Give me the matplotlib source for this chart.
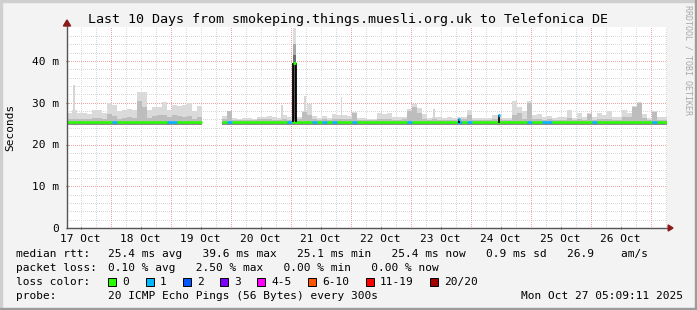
import numpy as np
import matplotlib
matplotlib.use("Agg")
import matplotlib.pyplot as plt
from matplotlib.patches import Rectangle, Polygon

nan = np.nan
W, H = 697, 310

# 2 hour buckets, 12 per day, from Oct 17 05:09 to Oct 27 05:09 (x in days)
smoke_top = [
    27.5, 28.3, 27.5, 27.5, 27.3, 28.2, 28.2, 27.5, 30.0, 29.5, 28.0, 28.3,
    28.6, 28.2, 32.6, 32.6, 28.3, 29.0, 29.0, 30.1, 28.3, 29.5, 29.3, 29.5,
    30.0, 28.0, 29.3, nan, nan, nan, nan, 26.8, 26.8, 26.3, 26.2, 26.3,
    26.3, 26.2, 26.5, 26.5, 26.8, 26.5, 26.3, 27.0, 26.5, 26.5, 26.5, 28.0,
    29.7, 26.8, 26.3, 26.8, 26.3, 27.3, 27.0, 27.0, 26.8, 27.8, 26.3, 26.3,
    26.0, 26.0, 27.5, 27.3, 27.5, 26.5, 26.5, 26.5, 28.5, 29.7, 28.8, 27.2,
    26.3, 26.5, 26.5, 26.3, 26.5, 26.3, 26.5, 26.5, 28.3, 26.3, 26.3, 26.3,
    26.3, 27.0, 27.0, 26.3, 26.3, 30.5, 29.0, 28.0, 30.5, 27.0, 27.3, 26.5,
    26.8, 26.3, 26.5, 26.5, 28.3, 26.3, 27.5, 26.5, 27.5, 26.5, 27.5, 27.0,
    28.0, 26.5, 26.5, 28.3, 27.5, 29.2, 30.2, 27.3, 26.3, 28.0, 26.5, 26.5,
]
smoke_mid = [
    26.0, 26.2, 26.0, 26.0, 26.0, 26.3, 26.3, 26.0, 27.2, 26.8, 26.2, 26.3,
    26.5, 26.3, 30.5, 29.0, 26.3, 26.8, 27.0, 27.0, 26.5, 27.0, 26.8, 26.5,
    26.8, 26.2, 26.5, nan, nan, nan, nan, 26.0, 28.0, 25.9, 25.9, 25.9,
    25.9, 25.9, 26.0, 26.0, 26.0, 25.9, 25.9, 26.0, 25.9, 26.0, 26.2, 27.8,
    27.0, 26.0, 25.9, 26.0, 25.9, 26.2, 26.0, 26.0, 26.0, 27.5, 25.9, 25.9,
    25.8, 25.8, 26.0, 26.0, 26.0, 25.9, 25.9, 26.0, 28.0, 29.0, 27.5, 26.2,
    25.9, 26.0, 25.9, 25.9, 25.9, 25.9, 26.0, 26.0, 27.0, 25.9, 25.9, 25.9,
    25.9, 26.0, 26.2, 25.9, 25.9, 27.0, 27.5, 26.2, 30.0, 26.0, 26.0, 25.9,
    26.0, 25.9, 25.9, 25.9, 26.3, 25.9, 26.2, 25.9, 27.3, 25.9, 26.0, 26.0,
    26.2, 25.9, 25.9, 26.5, 26.5, 29.0, 30.0, 26.3, 25.9, 27.8, 25.9, 25.9,
]
median_ms = [
    25.5, 25.5, 25.5, 25.5, 25.5, 25.5, 25.5, 25.5, 25.5, 25.5, 25.5, 25.5,
    25.5, 25.5, 25.5, 25.5, 25.5, 25.5, 25.5, 25.5, 25.5, 25.5, 25.5, 25.5,
    25.5, 25.5, 25.5, nan, nan, nan, nan, 25.4, 25.4, 25.4, 25.4, 25.4,
    25.4, 25.4, 25.4, 25.4, 25.4, 25.4, 25.4, 25.4, 25.4, 25.4, 25.4, 25.4,
    25.4, 25.4, 25.4, 25.4, 25.4, 25.4, 25.4, 25.4, 25.4, 25.4, 25.4, 25.4,
    25.4, 25.4, 25.4, 25.4, 25.4, 25.4, 25.4, 25.4, 25.4, 25.4, 25.4, 25.4,
    25.4, 25.4, 25.4, 25.4, 25.4, 25.4, 25.4, 25.4, 25.4, 25.4, 25.4, 25.4,
    25.4, 25.4, 25.4, 25.4, 25.4, 25.4, 25.4, 25.4, 25.4, 25.4, 25.4, 25.4,
    25.4, 25.4, 25.4, 25.4, 25.4, 25.4, 25.4, 25.4, 25.4, 25.4, 25.4, 25.4,
    25.4, 25.4, 25.4, 25.4, 25.4, 25.4, 25.4, 25.4, 25.4, 25.4, 25.4, 25.4,
]
loss = [
    0, 0, 0, 0, 0, 0, 0, 0, 0, 1, 0, 0,
    0, 0, 0, 0, 0, 0, 0, 0, 1, 1, 0, 0,
    0, 0, 0, 0, 0, 0, 0, 0, 1, 0, 0, 0,
    0, 0, 0, 0, 0, 0, 0, 0, 1, 0, 0, 0,
    0, 1, 0, 1, 0, 1, 0, 0, 0, 1, 0, 0,
    0, 0, 0, 0, 0, 0, 0, 0, 1, 0, 0, 0,
    0, 0, 0, 0, 0, 0, 1, 0, 1, 0, 0, 0,
    0, 0, 0, 0, 0, 0, 0, 0, 1, 0, 0, 1,
    1, 0, 0, 0, 0, 0, 0, 0, 0, 1, 0, 0,
    0, 0, 0, 0, 0, 0, 0, 0, 0, 1, 0, 0,
]
smoke_floor = 24.8

# narrow smoke spikes
spike_day = [0.117, 3.583, 3.967, 4.575, 6.117]
spike_top = [34.3, 29.5, 31.5, 31.4, 28.6]

# the one big jump on 20 Oct
jump_day = 3.77
jump_median = 39.6
jump_top = 48.0

# small median blips
blip_day = [6.533, 7.2]
blip_ms = [26.1, 27.0]

day_labels = ["17 Oct", "18 Oct", "19 Oct", "20 Oct", "21 Oct",
              "22 Oct", "23 Oct", "24 Oct", "25 Oct", "26 Oct"]

loss_labels = ["0", "1", "2", "3", "4-5", "6-10", "11-19", "20/20"]
loss_colors = ["#26ff00", "#00b8ff", "#0059ff", "#7e00ff",
               "#ff00ff", "#ff5500", "#ff0000", "#a10000"]

plt.rcParams['font.family'] = ['DejaVu Sans Mono']

fig = plt.figure(figsize=(W / 100, H / 100), dpi=100)
fig.patch.set_facecolor("#f3f3f3")


def fx(px):
    return px / W


def fy(py):
    return 1 - py / H


ax = fig.add_axes([fx(67), fy(228), 600 / W, 201 / H])
ax.set_facecolor("white")
ax.set_xlim(0, 10)
ax.set_ylim(0, 201 / 4.175)
for s in ax.spines.values():
    s.set_visible(False)

# grid, 1px dots, not antialiased so they stay crisp
dots = (0, (1, 2))
for y in range(2, 48, 2):
    c = "#f4a4a4" if y % 10 == 0 else "#d9d9d9"
    ax.axhline(y, color=c, lw=0.72, ls=dots, zorder=0, antialiased=False)
for i, x in enumerate(np.arange(0.228, 10, 0.25)):
    c = "#f4a4a4" if i % 4 == 2 else "#d9d9d9"
    ax.axvline(x, color=c, lw=0.72, ls=dots, zorder=0, antialiased=False)

# smoke
bw = 1 / 12
left = np.arange(len(smoke_top)) * bw
top = np.array(smoke_top)
mid = np.array(smoke_mid)
ax.bar(left, top - smoke_floor, bw, bottom=smoke_floor, align="edge",
       color="#dadada", lw=0, zorder=2)
ax.bar(left, mid - smoke_floor, bw, bottom=smoke_floor, align="edge",
       color="#bdbdbd", lw=0, zorder=3)
ax.bar(left, np.where(np.isnan(top), nan, 0.6), bw, bottom=smoke_floor - 0.1,
       align="edge", color="#8c8c8c", lw=0, zorder=4)
ax.bar(spike_day, np.array(spike_top) - 25.0, 0.03, bottom=25.0,
       color="#d6d6d6", lw=0, zorder=2)

# big jump
jw = 0.045
ax.bar(jump_day, jump_top - 25.0, jw, bottom=25.0, align="edge", color="#dcdcdc", lw=0, zorder=5)
ax.bar(jump_day, 44.0 - 25.0, jw, bottom=25.0, align="edge", color="#a8a8a8", lw=0, zorder=5)
ax.bar(jump_day, 41.5 - 25.0, jw, bottom=25.0, align="edge", color="#6e6e6e", lw=0, zorder=5)
ax.bar(jump_day, jump_median - 26.0, jw, bottom=26.0, align="edge", color="#555555", lw=0, zorder=5)
ax.vlines([jump_day, jump_day + jw], 25.4, jump_median, color="black", lw=1.3, zorder=7)
ax.hlines(jump_median, jump_day, jump_day + jw, color=loss_colors[0], lw=2, zorder=8)

# median line coloured by loss
for i, m in enumerate(median_ms):
    if np.isnan(m):
        continue
    ax.hlines(m, left[i], left[i] + bw, color=loss_colors[loss[i]], lw=1.9, zorder=6)

for d, v in zip(blip_day, blip_ms):
    ax.vlines(d, 25.2, v, color="black", lw=1.2, zorder=7)
    ax.hlines(v, d - 0.01, d + 0.02, color=loss_colors[1], lw=2, zorder=8)

# axes, ticks, arrows
axc = "#555555"
ax.plot([0, 0], [0, 1.01], color=axc, lw=1, transform=ax.transAxes, clip_on=False, zorder=9)
ax.plot([0, 1.005], [0, 0], color=axc, lw=1, transform=ax.transAxes, clip_on=False, zorder=9)
ax.add_patch(Polygon([[-0.006, 1.005], [0.006, 1.005], [0, 1.035]], closed=True,
                     color="#8b1a1a", transform=ax.transAxes, clip_on=False, zorder=9))
ax.add_patch(Polygon([[1.002, -0.015], [1.002, 0.015], [1.01, 0]], closed=True,
                     color="#8b1a1a", transform=ax.transAxes, clip_on=False, zorder=9))

ax.set_yticks([0, 10, 20, 30, 40])
ax.set_yticklabels(["0", "10 m", "20 m", "30 m", "40 m"])
ax.set_xticks(np.arange(10) + 0.228)
ax.set_xticklabels(day_labels)
ax.tick_params(axis="y", length=2, direction="inout", color=axc, labelsize=8, pad=5)
ax.tick_params(axis="x", length=2, direction="inout", color=axc, labelsize=8, pad=3)

# texts
fig.text(fx(348), fy(19), "Last 10 Days from smokeping.things.muesli.org.uk to Telefonica DE",
         ha="center", va="center", fontsize=9.6)
fig.text(fx(10), fy(127), "Seconds", rotation=90, ha="center", va="center", fontsize=8)
fig.text(fx(688), fy(60), "RRDTOOL / TOBI OETIKER", rotation=270, ha="center", va="center",
         fontsize=6, color="#a8a8a8")

rows = {
    "median rtt:": "25.4 ms avg   39.6 ms max   25.1 ms min   25.4 ms now   0.9 ms sd   26.9    am/s",
    "packet loss:": "0.10 % avg   2.50 % max   0.00 % min   0.00 % now",
    "loss color:": "",
    "probe:": "20 ICMP Echo Pings (56 Bytes) every 300s",
}
for (name, value), py in zip(rows.items(), [254, 268, 282, 296]):
    fig.text(fx(16), fy(py), name, ha="left", va="center", fontsize=8)
    if value:
        fig.text(fx(108), fy(py), value, ha="left", va="center", fontsize=8)

sq_x = [108, 146, 183, 220, 257, 308, 366, 430]
for x, lab, c in zip(sq_x, loss_labels, loss_colors):
    fig.patches.append(Rectangle((fx(x), fy(286)), fx(8), 8 / H, facecolor=c,
                                 edgecolor="black", lw=0.7, transform=fig.transFigure))
    fig.text(fx(x + 14), fy(282), lab, ha="left", va="center", fontsize=8)

fig.text(fx(683), fy(296), "Mon Oct 27 05:09:11 2025", ha="right", va="center", fontsize=8)

# frame
fig.patches.append(Rectangle((0, 1 - 2 / H), 1, 2 / H, color="#cfcfcf", transform=fig.transFigure))
fig.patches.append(Rectangle((0, 0), 2 / W, 1, color="#cfcfcf", transform=fig.transFigure))
fig.patches.append(Rectangle((0, 0), 1, 2 / H, color="#9c9c9c", transform=fig.transFigure))
fig.patches.append(Rectangle((1 - 2 / W, 0), 2 / W, 1, color="#9c9c9c", transform=fig.transFigure))

fig.savefig("out.png", dpi=100, facecolor=fig.get_facecolor())
